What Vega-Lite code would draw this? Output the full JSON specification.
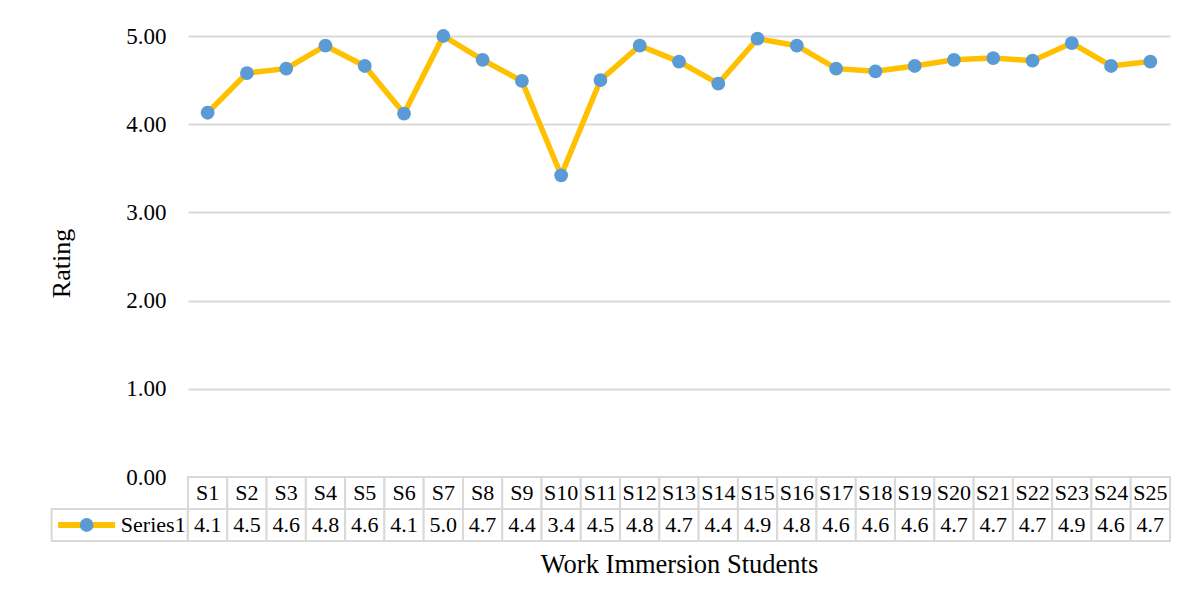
{
  "$schema": "https://vega.github.io/schema/vega-lite/v6.json",
  "padding": {"left": 48, "top": 25, "right": 5, "bottom": 5},
  "spacing": 0,
  "bounds": "flush",
  "datasets": {
    "ratings": [
      {"student": "S1", "rating": 4.13, "label": "4.1"},
      {"student": "S2", "rating": 4.58, "label": "4.5"},
      {"student": "S3", "rating": 4.63, "label": "4.6"},
      {"student": "S4", "rating": 4.89, "label": "4.8"},
      {"student": "S5", "rating": 4.66, "label": "4.6"},
      {"student": "S6", "rating": 4.12, "label": "4.1"},
      {"student": "S7", "rating": 5.0, "label": "5.0"},
      {"student": "S8", "rating": 4.73, "label": "4.7"},
      {"student": "S9", "rating": 4.49, "label": "4.4"},
      {"student": "S10", "rating": 3.42, "label": "3.4"},
      {"student": "S11", "rating": 4.5, "label": "4.5"},
      {"student": "S12", "rating": 4.89, "label": "4.8"},
      {"student": "S13", "rating": 4.71, "label": "4.7"},
      {"student": "S14", "rating": 4.46, "label": "4.4"},
      {"student": "S15", "rating": 4.97, "label": "4.9"},
      {"student": "S16", "rating": 4.89, "label": "4.8"},
      {"student": "S17", "rating": 4.63, "label": "4.6"},
      {"student": "S18", "rating": 4.6, "label": "4.6"},
      {"student": "S19", "rating": 4.66, "label": "4.6"},
      {"student": "S20", "rating": 4.73, "label": "4.7"},
      {"student": "S21", "rating": 4.75, "label": "4.7"},
      {"student": "S22", "rating": 4.72, "label": "4.7"},
      {"student": "S23", "rating": 4.92, "label": "4.9"},
      {"student": "S24", "rating": 4.66, "label": "4.6"},
      {"student": "S25", "rating": 4.71, "label": "4.7"}
    ]
  },
  "config": {
    "view": {"stroke": null},
    "font": "Liberation Serif"
  },
  "vconcat": [
    {
      "width": 982,
      "height": 441,
      "data": {"name": "ratings"},
      "encoding": {
        "x": {
          "field": "student",
          "type": "nominal",
          "sort": null,
          "scale": {"type": "band", "paddingInner": 0, "paddingOuter": 0},
          "axis": null
        },
        "y": {
          "field": "rating",
          "type": "quantitative",
          "scale": {"domain": [0, 5]},
          "axis": {
            "title": "Rating",
            "values": [0, 1, 2, 3, 4, 5],
            "format": ".2f",
            "grid": true,
            "gridColor": "#d9d9d9",
            "gridWidth": 2,
            "domain": false,
            "ticks": false,
            "labelFont": "Liberation Serif",
            "labelFontSize": 23,
            "labelColor": "#000000",
            "labelPadding": 22,
            "titleFont": "Liberation Serif",
            "titleFontSize": 26,
            "titleFontWeight": "normal",
            "titleColor": "#000000",
            "titlePadding": 51,
            "titleY": 227
          }
        }
      },
      "layer": [
        {"mark": {"type": "line", "color": "#FFC000", "strokeWidth": 5.5}},
        {"mark": {"type": "point", "filled": true, "color": "#5B9BD5", "opacity": 1, "size": 190}}
      ]
    },
    {
      "width": 982,
      "height": 64,
      "data": {"name": "ratings"},
      "transform": [{"fold": ["student", "label"], "as": ["row", "cell"]}],
      "encoding": {
        "x": {
          "field": "student",
          "type": "nominal",
          "sort": null,
          "scale": {"type": "band", "paddingInner": 0, "paddingOuter": 0},
          "axis": {
            "title": "Work Immersion Students",
            "labels": false,
            "ticks": false,
            "domain": false,
            "titleFont": "Liberation Serif",
            "titleFontSize": 26.5,
            "titleFontWeight": "normal",
            "titleColor": "#000000",
            "titlePadding": 10
          }
        },
        "y": {
          "field": "row",
          "type": "nominal",
          "sort": ["student", "label"],
          "scale": {"paddingInner": 0, "paddingOuter": 0},
          "axis": null
        }
      },
      "layer": [
        {"mark": {"type": "rect", "fill": "#ffffff", "stroke": "#d9d9d9", "strokeWidth": 2}},
        {
          "mark": {"type": "text", "font": "Liberation Serif", "fontSize": 22, "color": "#000000"},
          "encoding": {"text": {"field": "cell"}}
        },
        {
          "transform": [{"filter": "datum.student === 'S1' && datum.row === 'label'"}],
          "mark": {"type": "rect", "fill": "#ffffff", "stroke": "#d9d9d9", "strokeWidth": 2, "width": 136, "xOffset": -88}
        },
        {
          "transform": [{"filter": "datum.student === 'S1' && datum.row === 'label'"}],
          "mark": {"type": "rect", "fill": "#FFC000", "width": 57, "height": 6, "xOffset": -121}
        },
        {
          "transform": [{"filter": "datum.student === 'S1' && datum.row === 'label'"}],
          "mark": {"type": "point", "filled": true, "color": "#5B9BD5", "opacity": 1, "size": 190, "xOffset": -121}
        },
        {
          "transform": [{"filter": "datum.student === 'S1' && datum.row === 'label'"}, {"calculate": "'Series1'", "as": "series"}],
          "mark": {"type": "text", "font": "Liberation Serif", "fontSize": 22, "color": "#000000", "align": "right", "dx": -22},
          "encoding": {"text": {"field": "series"}}
        }
      ]
    }
  ]
}
